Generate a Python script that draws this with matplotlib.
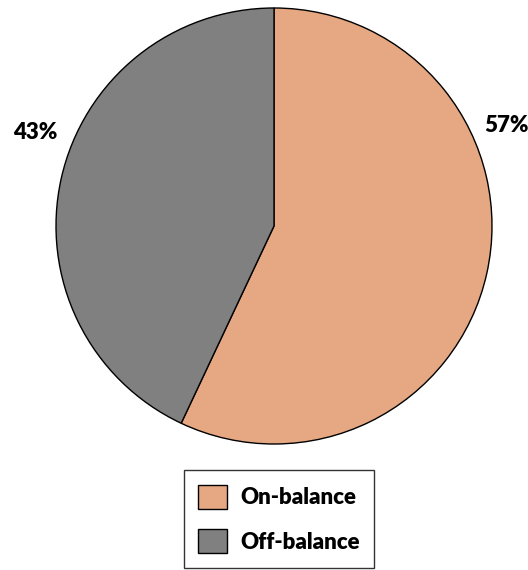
import matplotlib
matplotlib.use("Agg")
import matplotlib.pyplot as plt

# data
categories = ["On-balance", "Off-balance"]
shares = [57, 43]
pct_labels = ["57%", "43%"]
colors = ["#E5A882", "#808080"]

plt.rcParams['font.family'] = ['Lato', 'DejaVu Sans']
plt.rcParams['font.weight'] = 'heavy'

fig = plt.figure(figsize=(5.28, 5.70), dpi=100)
ax = fig.add_axes([56 / 528, 126 / 570, 436 / 528, 436 / 570])

wedges, _ = ax.pie(shares, colors=colors, startangle=90, counterclock=False,
                   radius=1, wedgeprops=dict(edgecolor='black', linewidth=1))
ax.set_xlim(-1, 1)
ax.set_ylim(-1, 1)
ax.set_aspect('auto')

# label positions (outside the pie)
label_pos = [(1.065, 0.46), (-1.096, 0.427)]
for txt, (x, y) in zip(pct_labels, label_pos):
    ax.text(x, y, txt, ha='center', va='center', fontsize=16, fontweight='heavy')

leg = fig.legend(wedges, categories, loc='center',
                 bbox_to_anchor=(279 / 528, 1 - 519 / 570),
                 frameon=True, fancybox=False, edgecolor='black',
                 fontsize=16, handlelength=1.3, handleheight=1.3,
                 borderpad=0.65, labelspacing=0.9, handletextpad=0.6)
leg.get_frame().set_linewidth(1)
for t in leg.get_texts():
    t.set_fontweight('heavy')

fig.savefig("out.png", dpi=100)
